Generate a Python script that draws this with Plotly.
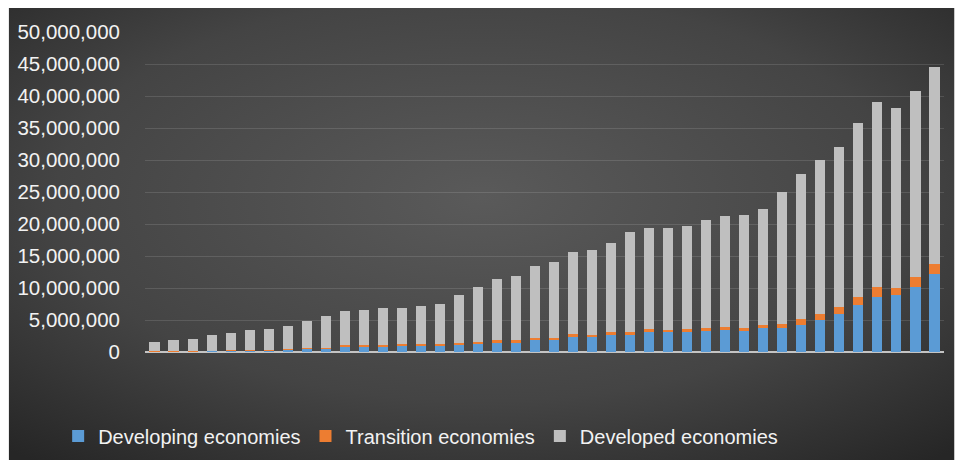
import base64
import plotly.graph_objects as go

# ---------------- data ----------------
years = [str(y) for y in range(1980, 2022)]  # 42 categories (no visible labels)

developing = [100000, 100000, 150000, 200000, 250000, 300000, 300000, 400000,
              500000, 600000, 900000, 900000, 900000, 950000, 1000000, 1000000,
              1100000, 1300000, 1550000, 1500000, 1950000, 1950000, 2450000,
              2400000, 2750000, 2750000, 3100000, 3050000, 3200000, 3250000,
              3400000, 3250000, 3800000, 3700000, 4200000, 5000000, 5900000,
              7300000, 8650000, 8900000, 10200000, 12200000]

transition = [20000, 20000, 30000, 30000, 30000, 50000, 50000, 60000,
              100000, 100000, 250000, 250000, 250000, 250000, 250000, 250000,
              250000, 250000, 300000, 300000, 300000, 300000, 300000,
              300000, 300000, 300000, 450000, 450000, 450000, 450000,
              450000, 450000, 450000, 700000, 900000, 900000, 1200000,
              1350000, 1450000, 1050000, 1500000, 1550000]

developed = [1480000, 1680000, 1920000, 2420000, 2720000, 3050000, 3250000, 3600000,
             4300000, 5000000, 5300000, 5450000, 5650000, 5700000, 5950000, 6300000,
             7600000, 8650000, 9550000, 10100000, 11150000, 11850000, 12850000,
             13300000, 14050000, 15750000, 15750000, 15800000, 16050000, 16900000,
             17400000, 17700000, 18050000, 20650000, 22700000, 24100000, 25000000,
             27150000, 28900000, 28250000, 29100000, 30850000]

y_ticks = [0, 5000000, 10000000, 15000000, 20000000, 25000000,
           30000000, 35000000, 40000000, 45000000, 50000000]
y_tick_labels = ["0", "5,000,000", "10,000,000", "15,000,000", "20,000,000",
                 "25,000,000", "30,000,000", "35,000,000", "40,000,000",
                 "45,000,000", "50,000,000"]

# ---------------- figure ----------------
FONT = "Arial, Liberation Sans, sans-serif"

fig = go.Figure()
fig.add_trace(go.Bar(x=years, y=developing, name="Developing economies",
                     marker=dict(color="#5b9bd5", line=dict(width=0))))
fig.add_trace(go.Bar(x=years, y=transition, name="Transition economies",
                     marker=dict(color="#ed7d31", line=dict(width=0))))
fig.add_trace(go.Bar(x=years, y=developed, name="Developed economies",
                     marker=dict(color="#bfbfbf", line=dict(width=0))))

# dark radial-gradient backdrop (chart area of the original picture)
svg = ('<svg xmlns="http://www.w3.org/2000/svg" width="947" height="452" '
       'preserveAspectRatio="none">'
       '<defs><radialGradient id="g" cx="0.5" cy="0.42" r="0.75">'
       '<stop offset="0" stop-color="#5a5a5a"/>'
       '<stop offset="0.6" stop-color="#444444"/>'
       '<stop offset="1" stop-color="#262626"/>'
       '</radialGradient></defs>'
       '<rect x="0" y="0" width="947" height="452" fill="url(#g)"/></svg>')
bg_src = "data:image/svg+xml;base64," + base64.b64encode(svg.encode()).decode()

fig.update_layout(
    width=962, height=460,
    barmode="stack",
    bargap=0.47,
    paper_bgcolor="white",
    plot_bgcolor="rgba(0,0,0,0)",
    margin=dict(l=144.5, r=17.5, t=32, b=108, pad=0, autoexpand=False),
    font=dict(family=FONT, color="#f2f2f2", size=20),
    images=[dict(source=bg_src, xref="paper", yref="paper",
                 x=-0.1706, y=1.075, sizex=1.18375, sizey=1.4125,
                 xanchor="left", yanchor="top", sizing="stretch",
                 layer="below")],
    showlegend=True,
    legend=dict(orientation="h", x=0.345, xanchor="center",
                yref="container", y=0.052, yanchor="middle",
                font=dict(family=FONT, size=20, color="#f2f2f2"),
                bgcolor="rgba(0,0,0,0)", traceorder="normal",
                itemclick=False, itemdoubleclick=False),
    xaxis=dict(type="category", showticklabels=False, showgrid=False,
               zeroline=False, showline=False, ticks="",
               range=[-0.5, len(years) - 0.5], fixedrange=True),
    yaxis=dict(range=[0, 50000000], tickvals=y_ticks, ticktext=y_tick_labels,
               showgrid=True, gridcolor="rgba(255,255,255,0.12)", gridwidth=1,
               zeroline=True, zerolinecolor="#c4c4c4", zerolinewidth=2,
               showline=False, ticks="", ticklabelstandoff=24,
               tickfont=dict(family=FONT, size=20.5, color="#f2f2f2"),
               fixedrange=True),
)

fig.write_html("out.html",
               config={"displayModeBar": False},
               post_script="document.body.style.margin='0px';"
                           "document.body.style.overflow='hidden';")
